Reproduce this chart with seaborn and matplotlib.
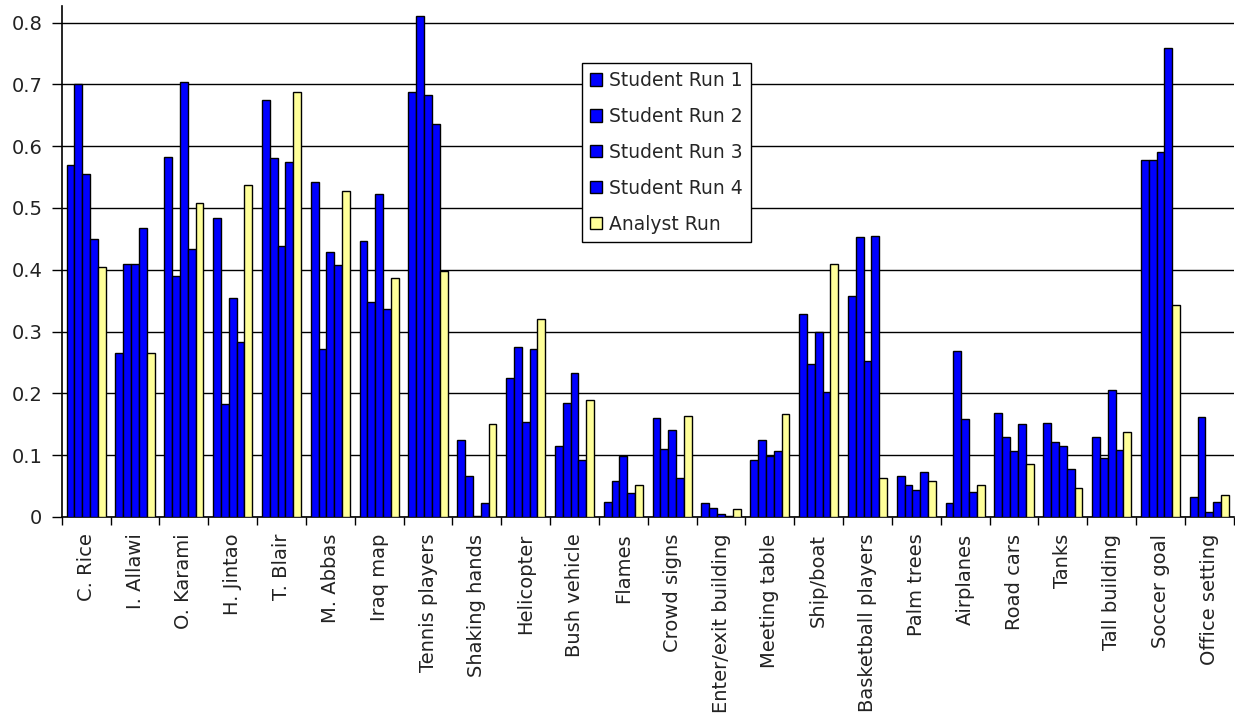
import matplotlib
matplotlib.use("Agg")
import matplotlib.pyplot as plt
import seaborn as sns
import pandas as pd
import numpy as np
from matplotlib.ticker import FixedLocator

categories = ["C. Rice", "I. Allawi", "O. Karami", "H. Jintao", "T. Blair", "M. Abbas",
              "Iraq map", "Tennis players", "Shaking hands", "Helicopter", "Bush vehicle",
              "Flames", "Crowd signs", "Enter/exit building", "Meeting table", "Ship/boat",
              "Basketball players", "Palm trees", "Airplanes", "Road cars", "Tanks",
              "Tall building", "Soccer goal", "Office setting"]

student_run_1 = [0.570, 0.265, 0.583, 0.483, 0.675, 0.542, 0.447, 0.688, 0.125, 0.225, 0.115,
                 0.025, 0.160, 0.022, 0.092, 0.328, 0.358, 0.066, 0.022, 0.168, 0.152, 0.130,
                 0.578, 0.033]
student_run_2 = [0.700, 0.410, 0.390, 0.183, 0.580, 0.272, 0.347, 0.810, 0.067, 0.275, 0.185,
                 0.058, 0.110, 0.014, 0.124, 0.247, 0.453, 0.052, 0.268, 0.130, 0.122, 0.095,
                 0.578, 0.162]
student_run_3 = [0.555, 0.410, 0.703, 0.355, 0.438, 0.428, 0.522, 0.683, 0.002, 0.153, 0.233,
                 0.098, 0.140, 0.005, 0.098, 0.300, 0.253, 0.044, 0.158, 0.107, 0.115, 0.205,
                 0.590, 0.008]
student_run_4 = [0.450, 0.467, 0.433, 0.283, 0.575, 0.408, 0.336, 0.636, 0.022, 0.272, 0.092,
                 0.038, 0.063, 0.002, 0.107, 0.202, 0.455, 0.072, 0.041, 0.150, 0.077, 0.108,
                 0.758, 0.024]
analyst_run = [0.405, 0.265, 0.508, 0.537, 0.688, 0.528, 0.386, 0.398, 0.150, 0.320, 0.190,
               0.052, 0.163, 0.013, 0.166, 0.410, 0.063, 0.058, 0.052, 0.085, 0.047, 0.138,
               0.343, 0.035]

series_names = ["Student Run 1", "Student Run 2", "Student Run 3", "Student Run 4", "Analyst Run"]
series_values = [student_run_1, student_run_2, student_run_3, student_run_4, analyst_run]
y_ticks = [0, 0.1, 0.2, 0.3, 0.4, 0.5, 0.6, 0.7, 0.8]
y_tick_labels = ["0", "0.1", "0.2", "0.3", "0.4", "0.5", "0.6", "0.7", "0.8"]

rows = []
for name, vals in zip(series_names, series_values):
    for c, v in zip(categories, vals):
        rows.append({"category": c, "series": name, "value": v})
df = pd.DataFrame(rows)

sns.set_theme(style="white")
plt.rcParams['font.family'] = ['DejaVu Sans']

palette = {"Student Run 1": "#0000FF", "Student Run 2": "#0000FF", "Student Run 3": "#0000FF",
           "Student Run 4": "#0000FF", "Analyst Run": "#FFFF99"}

fig = plt.figure(figsize=(12.35, 7.17), dpi=100)
ax = fig.add_axes([0.050, 0.279, 0.949, 0.712])

sns.barplot(data=df, x="category", y="value", hue="series", order=categories,
            hue_order=series_names, palette=palette, saturation=1, width=0.8,
            edgecolor="black", linewidth=1.0, ax=ax, errorbar=None, zorder=3)

ax.set_xlim(-0.5, len(categories) - 0.5)
ax.set_ylim(0, 0.826)
ax.set_yticks(y_ticks)
ax.set_yticklabels(y_tick_labels, fontsize=14, color="#222222")
ax.yaxis.grid(True, color="black", linewidth=1.0, zorder=0)
ax.set_axisbelow(True)
ax.set_xlabel("")
ax.set_ylabel("")

ax.set_xticks(range(len(categories)))
ax.set_xticklabels(categories, rotation=90, fontsize=14, color="#222222")
ax.xaxis.set_minor_locator(FixedLocator(np.arange(-0.5, len(categories), 1.0)))
ax.tick_params(axis="x", which="major", length=0, pad=12)
ax.tick_params(axis="x", which="minor", length=6, width=1, color="black", bottom=True)
ax.tick_params(axis="y", which="major", length=7, width=1, color="black", left=True, pad=7)

for s in ["top", "right"]:
    ax.spines[s].set_visible(False)
for s in ["left", "bottom"]:
    ax.spines[s].set_color("black")
    ax.spines[s].set_linewidth(1.2)

leg = ax.legend(loc="upper left", bbox_to_anchor=(0.4437, 0.890), fontsize=13.5,
                frameon=True, fancybox=False, edgecolor="black", framealpha=1,
                handlelength=0.65, handleheight=0.65, handletextpad=0.35,
                labelspacing=0.9, borderpad=0.45, borderaxespad=0)
leg.get_frame().set_linewidth(1.0)
leg.set_zorder(10)

fig.savefig("out.png", dpi=100, facecolor="white")
